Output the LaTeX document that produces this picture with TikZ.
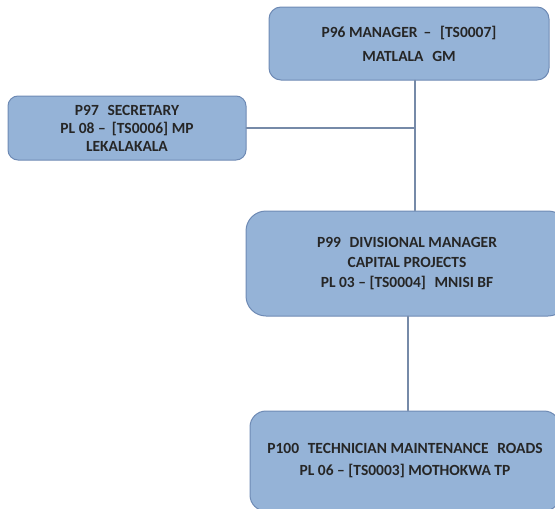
\documentclass[tikz,border=0pt]{standalone}
\usepackage{fontspec}
\setmainfont{Carlito}
\usepackage{tikz}
\usetikzlibrary{arrows}

\definecolor{postfill}{RGB}{149,179,215}
\definecolor{postline}{RGB}{110,138,180}
\definecolor{wire}{RGB}{118,138,168}

\newcommand{\postfont}[1]{\fontsize{15.5}{#1}\selectfont\bfseries}

\begin{document}
\begin{tikzpicture}[line cap=round,line join=round,x=1pt,y=-1pt,
	post/.style={draw=postline,fill=postfill,line width=1pt,align=center,inner sep=0pt,
		font=\postfont{20},text=black!85},
	wireline/.style={draw=wire,line width=1.6pt}]
		\useasboundingbox (0,0) rectangle (555,509);
		\clip (0,0) rectangle (555,509);
		
		\node[post,font=\postfont{24},rounded corners=12pt,minimum width=280pt,minimum height=73pt] (p96) at (409,43.5)
			{P96 MANAGER \,--\,\, [TS0007]\\MATLALA\,\, GM};
		\node[post,font=\postfont{18},rounded corners=10pt,minimum width=238pt,minimum height=64pt] (p97) at (127,128)
			{P97\,\, SECRETARY\\PL 08 -- \,[TS0006] MP\\LEKALAKALA};
		\node[post,rounded corners=20pt,minimum width=322pt,minimum height=105pt] (p99) at (407,263.5)
			{P99\,\, DIVISIONAL MANAGER\\CAPITAL PROJECTS\\PL 03 -- [TS0004]\,\, MNISI BF};
		\node[post,font=\postfont{22},rounded corners=16pt,minimum width=310pt,minimum height=100pt] (p100) at (405,461)
			{P100\,\, TECHNICIAN MAINTENANCE\,\, ROADS\\PL 06 -- [TS0003] MOTHOKWA TP};
		
		% vertical trunk under the manager
		\coordinate (trunk) at ([xshift=6pt]p96.south);
		\draw[wireline] (trunk) -- ([xshift=8pt]p99.north);
		\draw[wireline] (p97.east) -- (p97.east -| trunk);
		\draw[wireline] ([xshift=1pt]p99.south) -- ([xshift=3pt]p100.north);
	\end{tikzpicture}
\end{document}
